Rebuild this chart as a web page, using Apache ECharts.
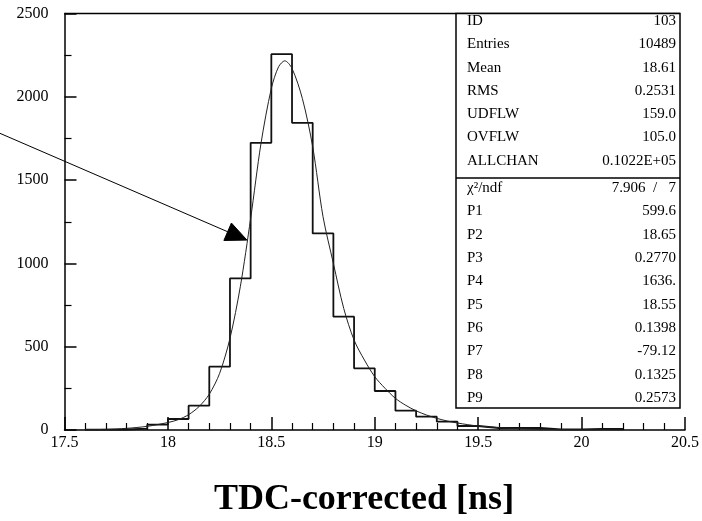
<!DOCTYPE html>
<html>
<head>
<meta charset="utf-8">
<script src="https://cdn.jsdelivr.net/npm/echarts@6/dist/echarts.min.js"></script>
<style>
  html, body { margin: 0; padding: 0; background: #fff; }
  #chart { width: 702px; height: 521px; }
</style>
</head>
<body>
<div id="chart"></div>
<script>
// Histogram bins: left edges (ns) and counts per 0.1 ns bin
const binLeft = [17.6, 17.7, 17.8, 17.9, 18.0, 18.1, 18.2, 18.3, 18.4, 18.5,
                 18.6, 18.7, 18.8, 18.9, 19.0, 19.1, 19.2, 19.3, 19.4, 19.5,
                 19.6, 19.7, 19.8, 19.9, 20.0, 20.1];
const binRightEnd = 20.2;
const counts = [2, 3, 8, 32, 66, 146, 380, 910, 1724, 2256,
                1844, 1180, 680, 370, 234, 116, 80, 50, 24, 12,
                12, 12, 4, 4, 6, 6];

// Fitted curve sampled along x
const fitX = [17.6, 17.7, 17.8, 17.9, 18.0, 18.05, 18.1, 18.15, 18.2, 18.25,
              18.3, 18.35, 18.4, 18.45, 18.5, 18.535, 18.565, 18.6, 18.65, 18.7,
              18.75, 18.8, 18.85, 18.9, 18.95, 19.0, 19.05, 19.1, 19.15, 19.2,
              19.25, 19.3, 19.35, 19.4, 19.45, 19.5, 19.6, 19.7, 19.8, 19.9,
              20.0, 20.2];
const fitY = [2, 4, 10, 22, 45, 62, 92, 140, 215, 340,
              550, 860, 1270, 1720, 2050, 2180, 2216, 2170, 1990, 1700,
              1280, 1000, 730, 540, 420, 320, 250, 190, 148, 115,
              90, 70, 54, 42, 32, 24, 14, 8, 4, 2,
              1, 0];

// Annotation arrow (data coordinates): tail and tip
const arrowTail = [17.18, 1785];
const arrowTip = [18.382, 1140];

// Statistics box rows
const statLabels = ['ID', 'Entries', 'Mean', 'RMS', 'UDFLW', 'OVFLW', 'ALLCHAN'];
const statValues = ['103', '10489', '18.61', '0.2531', '159.0', '105.0', '0.1022E+05'];
const fitLabels = ['P1', 'P2', 'P3', 'P4', 'P5', 'P6', 'P7', 'P8', 'P9'];
const fitValues = ['599.6', '18.65', '0.2770', '1636.', '18.55', '0.1398', '-79.12', '0.1325', '0.2573'];
const chiLabel = 'χ²/ndf';
const chiValue = '7.906  /   7';

const xTicks = { min: 17.5, max: 20.5, interval: 0.5 };
const yTicks = { min: 0, max: 2500, interval: 500 };

const FONT = '"Liberation Serif", "DejaVu Serif", serif';

const histData = binLeft.map((x, i) => [x, counts[i]]);
histData.push([binRightEnd, counts[counts.length - 1]]);
const fitData = fitX.map((x, i) => [x, fitY[i]]);

// Box layout (pixels)
const box = { x: 456, y: 13.5, w: 224, h: 394.5, sep: 178 };
const graphics = [];
graphics.push({
  type: 'line', shape: { x1: 64.5, y1: 13.5, x2: box.x + box.w, y2: 13.5 },
  style: { stroke: '#000', lineWidth: 1.5 }, z: 10
});
graphics.push({
  type: 'rect', shape: { x: box.x, y: box.y, width: box.w, height: box.h },
  style: { fill: '#fff', stroke: '#000', lineWidth: 1.5 }, z: 10
});
graphics.push({
  type: 'line', shape: { x1: box.x, y1: box.sep, x2: box.x + box.w, y2: box.sep },
  style: { stroke: '#000', lineWidth: 1.5 }, z: 11
});
function addRow(label, value, y) {
  graphics.push({
    type: 'text', x: box.x + 11, y: y, z: 12,
    style: { text: label, font: '15px ' + FONT, fill: '#000', textVerticalAlign: 'middle' }
  });
  graphics.push({
    type: 'text', x: box.x + box.w - 4, y: y, z: 12,
    style: { text: value, font: '15px ' + FONT, fill: '#000', textAlign: 'right', textVerticalAlign: 'middle' }
  });
}
statLabels.forEach((l, i) => addRow(l, statValues[i], 21 + i * 23.3));
addRow(chiLabel, chiValue, 188);
fitLabels.forEach((l, i) => addRow(l, fitValues[i], 211.5 + i * 23.3));

graphics.push({
  type: 'text', x: 364, y: 500, z: 12,
  style: {
    text: 'TDC-corrected [ns]', font: 'bold 36px ' + FONT, fill: '#000',
    textAlign: 'center', textVerticalAlign: 'middle'
  }
});

const chart = echarts.init(document.getElementById('chart'), null, { renderer: 'canvas' });
chart.setOption({
  animation: false,
  backgroundColor: '#fff',
  grid: { left: 64.5, right: 13, top: 13.5, bottom: 91 },
  xAxis: {
    type: 'value', min: xTicks.min, max: xTicks.max, interval: xTicks.interval,
    axisLine: { show: true, onZero: false, lineStyle: { color: '#000', width: 1.5 } },
    axisTick: { show: true, inside: true, length: 13, lineStyle: { color: '#000', width: 1.5 } },
    minorTick: { show: true, splitNumber: 5, length: 7, lineStyle: { color: '#000', width: 1.2 } },
    splitLine: { show: false },
    axisLabel: {
      color: '#000', fontFamily: FONT, fontSize: 16, margin: 5,
      showMaxLabel: true, showMinLabel: true,
      formatter: v => String(v)
    }
  },
  yAxis: {
    type: 'value', min: yTicks.min, max: yTicks.max, interval: yTicks.interval,
    axisLine: { show: true, lineStyle: { color: '#000', width: 1.5 } },
    axisTick: { show: true, inside: true, length: 12, lineStyle: { color: '#000', width: 1.5 } },
    minorTick: { show: true, splitNumber: 2, length: 7, lineStyle: { color: '#000', width: 1.2 } },
    splitLine: { show: false },
    axisLabel: { color: '#000', fontFamily: FONT, fontSize: 16, margin: 16, formatter: v => String(v) }
  },
  series: [
    {
      type: 'line', name: 'hist', data: histData, step: 'end',
      symbol: 'none', lineStyle: { color: '#111', width: 1.8 }, z: 3
    },
    {
      type: 'line', name: 'fit', data: fitData, smooth: 0.3,
      symbol: 'none', lineStyle: { color: '#222', width: 1 }, z: 4
    }
  ],
  graphic: graphics
});

// Arrow pointing at the fitted curve, placed through the axis scales
const tail = chart.convertToPixel({ gridIndex: 0 }, arrowTail);
const tip = chart.convertToPixel({ gridIndex: 0 }, arrowTip);
const dx = tip[0] - tail[0], dy = tip[1] - tail[1];
const len = Math.sqrt(dx * dx + dy * dy);
const ux = dx / len, uy = dy / len;
const headLen = 21, headHalf = 9.5;
const bx = tip[0] - ux * headLen, by = tip[1] - uy * headLen;
chart.setOption({
  graphic: graphics.concat([
    {
      type: 'line', z: 20,
      shape: { x1: tail[0], y1: tail[1], x2: bx, y2: by },
      style: { stroke: '#000', lineWidth: 1 }
    },
    {
      type: 'polygon', z: 20,
      shape: {
        points: [
          [tip[0], tip[1]],
          [bx - uy * headHalf, by + ux * headHalf],
          [bx + uy * headHalf, by - ux * headHalf]
        ]
      },
      style: { fill: '#000', stroke: '#000', lineWidth: 1 }
    }
  ])
});
</script>
</body>
</html>
